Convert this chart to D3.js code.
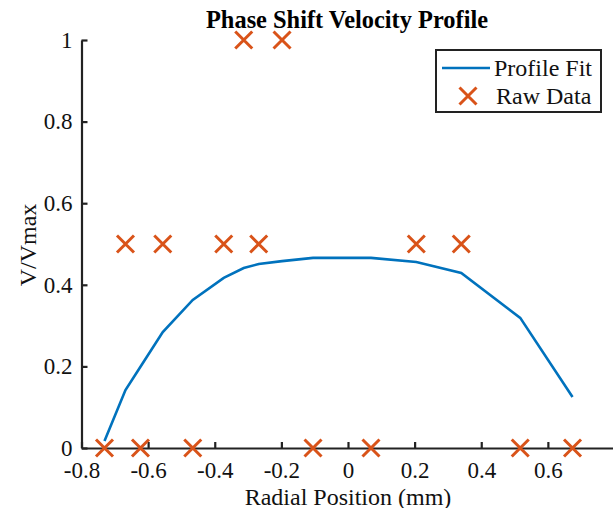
<!DOCTYPE html>
<html>
<head>
<meta charset="utf-8">
<script src="https://cdn.jsdelivr.net/npm/d3@7"></script>
<style>
  body { margin: 0; background: #fff; }
  svg { display: block; font-family: "Liberation Serif", "Times New Roman", serif; }
</style>
</head>
<body>
<svg id="chart" width="613" height="508"></svg>
<script>
// Profile fit (evaluated at the raw data radial positions)
var fitX = [-0.731, -0.668, -0.623, -0.556, -0.466, -0.373, -0.313, -0.268, -0.198, -0.105, 0.069, 0.205, 0.340, 0.517, 0.674];
var fitV = [0.017, 0.142, 0.199, 0.284, 0.363, 0.417, 0.441, 0.451, 0.458, 0.466, 0.466, 0.456, 0.429, 0.319, 0.125];

// Raw data points
var rawX = [-0.313, -0.198, -0.668, -0.556, -0.373, -0.268, 0.205, 0.340, -0.731, -0.623, -0.466, -0.105, 0.069, 0.517, 0.674];
var rawV = [1, 1, 0.5, 0.5, 0.5, 0.5, 0.5, 0.5, 0, 0, 0, 0, 0, 0, 0];

var xTicks = [-0.8, -0.6, -0.4, -0.2, 0, 0.2, 0.4, 0.6];
var yTicks = [0, 0.2, 0.4, 0.6, 0.8, 1];

var svg = d3.select("#chart");
var axisColor = "#222";
var serif = "Liberation Serif, Times New Roman, serif";

var x = d3.scaleLinear().domain([-0.8, 0.8]).range([81.5, 614.5]);
var y = d3.scaleLinear().domain([0, 1]).range([448, 40]);

var fmt = function (d) { return String(Math.round(d * 10) / 10); };

// x axis
var gx = svg.append("g")
  .attr("transform", "translate(0," + y(0) + ")")
  .call(d3.axisBottom(x).tickValues(xTicks).tickFormat(fmt).tickSizeInner(-6).tickSizeOuter(0).tickPadding(14));

// y axis
var gy = svg.append("g")
  .attr("transform", "translate(" + x(-0.8) + ",0)")
  .call(d3.axisLeft(y).tickValues(yTicks).tickFormat(fmt).tickSizeInner(-6).tickSizeOuter(0).tickPadding(9));

[gx, gy].forEach(function (g) {
  g.attr("font-family", serif);
  g.select(".domain").attr("stroke", axisColor).attr("stroke-width", 2.2);
  g.selectAll(".tick line").attr("stroke", axisColor).attr("stroke-width", 2.2);
  g.selectAll(".tick text").attr("fill", "#111").style("font-size", "23px");
});
gx.selectAll(".tick text").attr("dy", "0.71em");

// profile fit line
var line = d3.line()
  .x(function (d, i) { return x(fitX[i]); })
  .y(function (d, i) { return y(fitV[i]); });

svg.append("path")
  .datum(fitX)
  .attr("fill", "none")
  .attr("stroke", "#0072BD")
  .attr("stroke-width", 2.6)
  .attr("d", line);

// raw data crosses
var orange = "#D95319";
var crossPath = "M-8.5,-8.5L8.5,8.5M-8.5,8.5L8.5,-8.5";
svg.selectAll(".raw")
  .data(rawX)
  .enter().append("path")
  .attr("class", "raw")
  .attr("transform", function (d, i) { return "translate(" + x(d) + "," + y(rawV[i]) + ")"; })
  .attr("d", crossPath)
  .attr("stroke", orange)
  .attr("stroke-width", 3)
  .attr("fill", "none");

// title
svg.append("text")
  .attr("x", 347)
  .attr("y", 28)
  .attr("text-anchor", "middle")
  .style("font-size", "24.4px")
  .style("font-weight", "bold")
  .attr("fill", "#000")
  .text("Phase Shift Velocity Profile");

// axis labels
svg.append("text")
  .attr("x", 348)
  .attr("y", 505)
  .attr("text-anchor", "middle")
  .style("font-size", "24px")
  .attr("fill", "#111")
  .text("Radial Position (mm)");

svg.append("text")
  .attr("transform", "translate(36,245) rotate(-90)")
  .attr("text-anchor", "middle")
  .style("font-size", "24px")
  .attr("fill", "#111")
  .text("V/Vmax");

// legend
var lg = svg.append("g").attr("transform", "translate(436,50)");
lg.append("rect")
  .attr("x", 0).attr("y", 0)
  .attr("width", 165).attr("height", 62)
  .attr("fill", "#fff")
  .attr("stroke", "#222")
  .attr("stroke-width", 2);
lg.append("line")
  .attr("x1", 6).attr("x2", 54)
  .attr("y1", 18).attr("y2", 18)
  .attr("stroke", "#0072BD").attr("stroke-width", 2.6);
lg.append("path")
  .attr("transform", "translate(32,46)")
  .attr("d", crossPath)
  .attr("stroke", orange).attr("stroke-width", 3).attr("fill", "none");
lg.append("text")
  .attr("x", 58).attr("y", 26)
  .style("font-size", "24px").attr("fill", "#111")
  .text("Profile Fit");
lg.append("text")
  .attr("x", 60).attr("y", 54)
  .style("font-size", "24px").attr("fill", "#111")
  .text("Raw Data");
</script>
</body>
</html>
